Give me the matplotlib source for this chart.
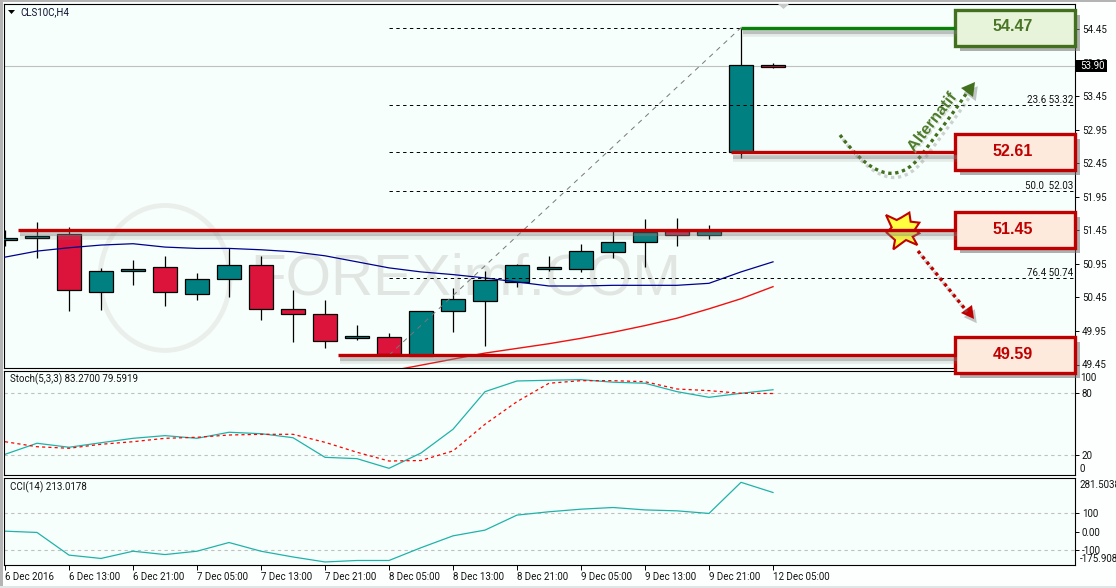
"""CLS10C H4 chart with Stoch and CCI panels, MT4 style"""
import matplotlib
matplotlib.use('Agg')
import matplotlib.pyplot as plt
import matplotlib.patheffects as pe
from matplotlib.patches import Rectangle, Polygon, PathPatch, Ellipse
from matplotlib.path import Path
import numpy as np

W = 1116
H = 588

time_labels = ['6 Dec 2016', '6 Dec 13:00', '6 Dec 21:00', '7 Dec 05:00', '7 Dec 13:00', '7 Dec 21:00', '8 Dec 05:00',
               '8 Dec 13:00', '8 Dec 21:00', '9 Dec 05:00', '9 Dec 13:00', '9 Dec 21:00', '12 Dec 05:00']

# velas
opens = [51.31, 51.34, 51.39, 50.53, 50.85, 50.90, 50.50, 50.73, 50.94, 50.27, 50.21, 49.84, 49.86,
         49.58, 50.24, 50.40, 50.68, 50.88, 50.88, 51.12, 51.28, 51.44, 51.38, 52.61, 53.92]
highs = [51.45, 51.57, 51.50, 50.89, 51.01, 51.07, 50.81, 51.19, 51.07, 50.56, 50.41, 50.04, 49.92,
         50.25, 50.59, 50.84, 50.95, 51.07, 51.25, 51.45, 51.62, 51.63, 51.53, 54.47, 53.94]
lows = [51.21, 51.04, 50.25, 50.26, 50.63, 50.32, 50.41, 50.45, 50.11, 49.79, 49.70, 49.82, 49.58,
        49.57, 49.94, 49.73, 50.61, 50.85, 50.83, 51.04, 50.91, 51.21, 51.32, 52.53, 53.87]
closes = [51.33, 51.37, 50.56, 50.85, 50.88, 50.53, 50.73, 50.94, 50.27, 50.20, 49.80, 49.87, 49.60,
          50.24, 50.42, 50.71, 50.93, 50.90, 51.14, 51.27, 51.42, 51.38, 51.44, 53.91, 53.89]

ma_blue = [51.05, 51.14, 51.19, 51.23, 51.25, 51.20, 51.18, 51.18, 51.16, 51.13, 51.07, 50.98, 50.89,
           50.83, 50.79, 50.74, 50.68, 50.62, 50.62, 50.63, 50.63, 50.63, 50.66, 50.83, 50.98]
ma_red = [49.35, 49.44, 49.53, 49.62, 49.69, 49.76, 49.84, 49.93, 50.03, 50.14, 50.28, 50.43, 50.61]
ma_red_start = 12

stoch_main = [20.4, 31.2, 27.3, 31.7, 36.0, 38.6, 36.0, 41.9, 40.5, 36.6, 17.5, 16.2, 6.8,
              21.7, 44.8, 81.4, 91.8, 92.5, 93.1, 90.6, 89.6, 81.4, 75.9, 79.8, 83.27]
stoch_signal = [32.7, 27.8, 26.3, 30.2, 32.7, 36.0, 37.0, 39.2, 39.9, 39.9, 32.1, 22.4, 13.9,
                14.4, 23.7, 49.7, 71.7, 89.6, 92.1, 92.1, 91.1, 84.0, 82.4, 79.8, 79.59]
cci = [4.3, -2.7, -125, -143, -104, -122, -104, -57, -104, -135, -162, -154, -154,
       -85, -21, 10, 91, 109, 123, 132, 119, 114, 100, 268, 213.02]

price_ticks = [54.45, 53.95, 53.45, 52.95, 52.45, 51.95, 51.45, 50.95, 50.45, 49.95, 49.45]
last_price = 53.90

# fibonacci
fib_levels = [54.47, 53.32, 52.61, 52.03, 50.74]
fib_labels = ['', '23.6 53.32', '', '50.0  52.03', '76.4 50.74']
fib_low = 49.59
fib_high = 54.47
fib_start = 12
fib_end = 23

# niveles con caja: valor, inicio de la linea (barra), tipo
box_levels = [54.47, 52.61, 51.45, 49.59]
box_starts = [23.0, 22.7, 0.4, 10.4]
box_kinds = ['green', 'red', 'red', 'red']

RED = '#c00000'
GREEN_LINE = '#0a800a'
GREEN_BOX = '#43701f'
BG = '#f6fffb'
FS = 7.0
plt.rcParams['font.family'] = ['Roboto', 'DejaVu Sans']

fig = plt.figure(figsize=(W / 100, H / 100), dpi=100, facecolor='#fdfefe')


def panel(top, bottom, left=4, right=1075):
    a = fig.add_axes([left / W, 1 - bottom / H, (right - left) / W, (bottom - top) / H])
    a.set_facecolor(BG)
    a.set_xlim((left - 5) / 32, (right - 5) / 32)
    for s in a.spines.values():
        s.set_linewidth(0.8)
    a.yaxis.tick_right()
    a.tick_params(length=3, width=0.7, labelsize=FS, pad=2, labelcolor='#111111')
    a.set_xticks([])
    return a


ax = panel(4, 368)
ax.set_ylim(54.45 - 339 / 67.1, 54.45 + 25 / 67.1)
ax1 = panel(370.5, 475.3)
ax1.set_ylim(0, 102)
ax2 = panel(477.5, 565.3)
ax2.set_ylim(-180, 294)

x = np.arange(len(opens))
o = np.array(opens)
c = np.array(closes)

# marca de agua
ax.add_patch(Ellipse((5.0, 50.74), 4.06, 2.16, fill=False, ec='#eaefec', lw=3.5, zorder=1))
ax.text(7.65, 50.72, 'FOREXimf.COM', fontsize=42, color='#e1e6e3', family='Liberation Sans', va='center',
        ha='left', zorder=1)

# velas
ax.vlines(x, lows, highs, color='black', lw=0.9, zorder=3)
up = c >= o
ax.bar(x[up], (c - o)[up], 0.75, bottom=o[up], color='#008080', edgecolor='black', lw=0.9, zorder=4)
ax.bar(x[~up], (o - c)[~up], 0.75, bottom=c[~up], color='#dc143c', edgecolor='black', lw=0.9, zorder=4)

ax.plot(x, ma_blue, color='#000090', lw=0.9, zorder=5)
ax.plot(x[ma_red_start:], ma_red, color='#f01010', lw=1.0, zorder=5)
ax.axhline(last_price, color='#c0c0c0', lw=0.8, zorder=2)

# fibo
for lev in fib_levels:
    ax.plot([fib_start, ax.get_xlim()[1]], [lev, lev], color='black', lw=0.7, ls=(0, (3.5, 3.5)), zorder=6)
ax.plot([fib_start, fib_end], [fib_low, fib_high], color='#777777', lw=0.7, ls=(0, (5, 5)), zorder=6)
for lev, lab in zip(fib_levels, fib_labels):
    ax.text(33.38, lev + 0.075, lab, ha='right', va='center', fontsize=FS, color='#111111', zorder=6)

ax.set_yticks(price_ticks)
ax.set_yticklabels(['%.2f' % p for p in price_ticks])

# estocastico
ax1.axhline(80, color='#c0c0c0', lw=0.8, ls=(0, (3, 3)))
ax1.axhline(20, color='#c0c0c0', lw=0.8, ls=(0, (3, 3)))
ax1.plot(x, stoch_main, color='#20b2aa', lw=0.9)
ax1.plot(x, stoch_signal, color='#ff0000', lw=0.9, ls=(0, (2.5, 2.5)))
ax1.set_yticks([80, 20])
ax1.set_yticklabels(['80', '20'])

# cci
ax2.axhline(100, color='#c0c0c0', lw=0.8, ls=(0, (3, 3)))
ax2.axhline(-100, color='#c0c0c0', lw=0.8, ls=(0, (3, 3)))
ax2.plot(x, cci, color='#20b2aa', lw=0.9)
ax2.set_yticks([100, 0, -100])
ax2.set_yticklabels(['100', '0.00', '-100'])
ax2.set_xticks(x[::2])
ax2.set_xticklabels(time_labels, ha='left')
ax2.tick_params(axis='x', length=3.5, width=0.7, pad=1, labelsize=FS)

# capa en pixeles para las anotaciones
top = fig.add_axes([0, 0, 1, 1], facecolor='none', zorder=10)
top.set_xlim(0, W)
top.set_ylim(H, 0)
top.axis('off')


def price_px(p):
    return H - ax.transData.transform((0, p))[1]


def bar_px(i):
    return ax.transData.transform((i, 0))[0]


line_shadow = [pe.SimpleLineShadow(offset=(1.5, -3), shadow_color='#808080', alpha=0.4, linewidth=3),
               pe.SimpleLineShadow(offset=(1.5, -4.5), shadow_color='#808080', alpha=0.15, linewidth=4), pe.Normal()]
box_shadow = [pe.SimplePatchShadow(offset=(3.5, -3.5), shadow_rgbFace='#707070', alpha=0.55), pe.Normal()]

for lev, start, kind in zip(box_levels, box_starts, box_kinds):
    py = price_px(lev)
    col = GREEN_LINE if kind == 'green' else RED
    edge = GREEN_BOX if kind == 'green' else RED
    face = '#e8f4d9' if kind == 'green' else '#fdeadd'
    txt = '#4a7527' if kind == 'green' else RED
    top.plot([bar_px(start), 955], [py, py], color=col, lw=2.4, solid_capstyle='butt', path_effects=line_shadow)
    top.add_patch(Rectangle((955, py - 18), 120, 36, fc=face, ec=edge, lw=2.4, path_effects=box_shadow))
    top.text(1012.5, py - 1, '%.2f' % lev, color=txt, fontsize=11.5, fontweight='bold', family='Liberation Sans',
             ha='center', va='center')

# flecha alternativa
dot_shadow = [pe.SimpleLineShadow(offset=(2, -3), shadow_color='#808080', alpha=0.35), pe.Normal()]
verts = [(840, 135), (868, 172), (896, 190), (923, 153), (936, 135), (950, 118), (966, 94)]
codes = [Path.MOVETO, Path.CURVE4, Path.CURVE4, Path.CURVE4, Path.CURVE4, Path.CURVE4, Path.CURVE4]
top.add_patch(PathPatch(Path(verts, codes), fill=False, ec='#43701f', lw=2.4, ls=(0, (1, 1.1)),
                        path_effects=dot_shadow))
top.add_patch(Polygon([(975, 82), (961, 88), (973, 97)], fc='#43701f', ec='none',
                      path_effects=[pe.SimplePatchShadow(offset=(2, -3), shadow_rgbFace='#707070', alpha=0.4), pe.Normal()]))
top.text(932, 122, 'Alternatif', rotation=52, color='#4f7d2c', fontsize=11.5, fontweight='bold', ha='center',
         va='center', rotation_mode='anchor', family='Liberation Sans',
         path_effects=[pe.withSimplePatchShadow(offset=(1, -1), shadow_rgbFace='#c0c0c0', alpha=0.5)])

# flecha roja
top.plot([918, 965], [251, 309], color=RED, lw=2.4, ls=(0, (1, 1.1)), path_effects=dot_shadow)
top.add_patch(Polygon([(974, 319), (961, 313), (972, 305)], fc=RED, ec='none',
                      path_effects=[pe.SimplePatchShadow(offset=(2, -3), shadow_rgbFace='#707070', alpha=0.4), pe.Normal()]))

# estrella
star_x = np.array([318, 350, 365, 388, 392, 418, 405, 418, 398, 412, 378, 340, 345, 320, 335]) / 3 + 780
star_y = np.array([75, 90, 82, 68, 95, 98, 118, 130, 140, 165, 150, 178, 150, 128, 112]) / 3 + 190
top.add_patch(Polygon(np.column_stack([star_x, star_y]), fc='#ffff40', ec=RED, lw=1.5))

# textos
top.text(20, 12.5, 'CLS10C,H4', fontsize=FS, va='center', color='#101030')
top.add_patch(Polygon([(8, 10), (15, 10), (11.5, 14)], fc='black', ec='none'))
top.add_patch(Polygon([(778, 4), (789, 4), (783.5, 9)], fc='#c8c8c8', ec='none'))
top.text(9.5, 379.5, 'Stoch(5,3,3) 83.2700 79.5919', fontsize=FS, va='center', color='#111111')
top.text(9.5, 487, 'CCI(14) 213.0178', fontsize=FS, va='center', color='#111111')

# etiquetas del eje que MT4 desplaza
top.text(1080, 378, '100', fontsize=FS, va='center', color='#111111')
top.text(1080, 469, '0', fontsize=FS, va='center', color='#111111')
top.text(1080, 485.5, '281.5038', fontsize=FS, va='center', color='#111111')
top.text(1080, 558.5, '-175.908', fontsize=FS, va='center', color='#111111')

py = price_px(last_price)
top.add_patch(Rectangle((1076, py - 6), 31, 12, fc='black', ec='none'))
top.text(1080, py, '%.2f' % last_price, color='white', fontsize=FS, va='center')

# borde gris de la ventana
top.add_patch(Rectangle((0, 0), 2.5, H, fc='#b4b4b4', ec='none'))
top.add_patch(Rectangle((0, 0), W, 1.5, fc='#b4b4b4', ec='none'))
top.add_patch(Rectangle((0, H - 2.5), W, 2.5, fc='#dfe6e6', ec='none'))

plt.savefig('out.png', dpi=100)
